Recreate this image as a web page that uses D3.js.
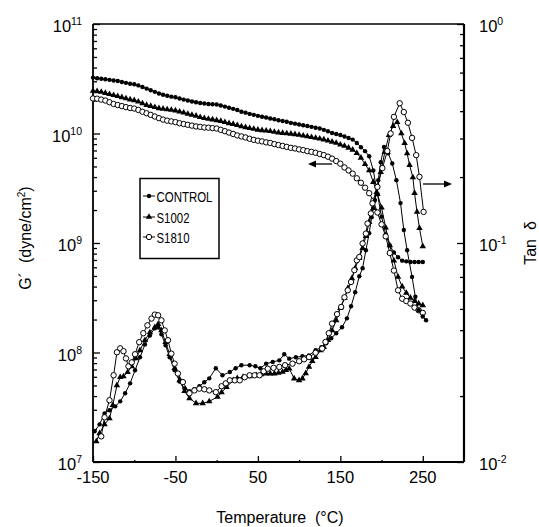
<!DOCTYPE html>
<html><head><meta charset="utf-8">
<script src="https://cdn.jsdelivr.net/npm/d3@7"></script>
<style>body{margin:0;background:#fff}</style>
</head><body><svg id="c" width="539" height="527" xmlns="http://www.w3.org/2000/svg"></svg>
<script>
// ---------- DATA ----------
const seriesNames = ["CONTROL", "S1002", "S1810"];
const xTicks = [-150, -50, 50, 150, 250];
const xMinor = [-100, 0, 100, 200];
const gMajor = [1e7, 1e8, 1e9, 1e10, 1e11];
const gExp = ["7", "8", "9", "10", "11"];
const tMajor = [1e-2, 1e-1, 1];
const tExp = ["-2", "-1", "0"];

// G' temperatures (°C)
const gTemps = [-150,-145,-140,-135,-130,-125,-120,-115,-110,-105,-100,-95,-90,-85,-80,-75,-70,-65,-60,-55,
  -50,-45,-40,-35,-30,-25,-20,-15,-10,-5,0,5,10,15,20,25,30,35,40,45,50,55,60,65,70,75,80,85,90,95,
  100,105,110,115,120,125,130,135,140,145,150,155,160,165,170,175,180,185,190,195,200,205,210,215,220,225,230,235,240,245,250];
const gControl = [3.24e10,3.2e10,3.16e10,3.13e10,3.09e10,3.05e10,3.02e10,2.95e10,2.9e10,2.85e10,
  2.82e10,2.75e10,2.66e10,2.57e10,2.48e10,2.4e10,2.32e10,2.26e10,2.21e10,2.17e10,
  2.14e10,2.09e10,2.04e10,2.0e10,1.96e10,1.93e10,1.9e10,1.88e10,1.86e10,1.85e10,
  1.84e10,1.8e10,1.76e10,1.72e10,1.68e10,1.64e10,1.58e10,1.55e10,1.51e10,1.48e10,
  1.45e10,1.42e10,1.4e10,1.37e10,1.35e10,1.32e10,1.3e10,1.28e10,1.25e10,1.23e10,
  1.21e10,1.19e10,1.17e10,1.15e10,1.13e10,1.11e10,1.08e10,1.05e10,1.01e10,9.9e9,
  9.7e9,9.4e9,9.1e9,8.8e9,8.2e9,7.5e9,6.9e9,6.2e9,4.6e9,2.8e9,
  1.74e9,1.2e9,9.5e8,8.2e8,7.4e8,6.9e8,6.8e8,6.7e8,6.7e8,6.7e8,6.7e8];
const gS1002 = [2.45e10,2.43e10,2.4e10,2.34e10,2.29e10,2.24e10,2.19e10,2.14e10,2.09e10,2.04e10,
  2.01e10,1.95e10,1.88e10,1.82e10,1.78e10,1.74e10,1.7e10,1.68e10,1.66e10,1.64e10,
  1.62e10,1.58e10,1.55e10,1.51e10,1.48e10,1.45e10,1.41e10,1.38e10,1.36e10,1.34e10,
  1.32e10,1.3e10,1.27e10,1.24e10,1.22e10,1.19e10,1.16e10,1.14e10,1.12e10,1.1e10,
  1.08e10,1.07e10,1.06e10,1.05e10,1.035e10,1.02e10,1.01e10,1.0e10,9.93e9,9.84e9,
  9.7e9,9.55e9,9.4e9,9.25e9,9.1e9,8.97e9,8.8e9,8.6e9,8.4e9,8.2e9,
  7.9e9,7.7e9,7.4e9,7.1e9,6.6e9,6.0e9,5.25e9,4.6e9,3.6e9,2.8e9,
  2.1e9,1.38e9,9.5e8,6.9e8,4.9e8,4.0e8,3.5e8,3.16e8,2.95e8,2.8e8,2.7e8];
const gS1810 = [2.09e10,2.08e10,2.04e10,2.0e10,1.93e10,1.86e10,1.82e10,1.78e10,1.74e10,1.71e10,
  1.69e10,1.64e10,1.58e10,1.53e10,1.48e10,1.43e10,1.38e10,1.34e10,1.31e10,1.29e10,
  1.27e10,1.24e10,1.22e10,1.2e10,1.18e10,1.16e10,1.15e10,1.135e10,1.13e10,1.12e10,
  1.11e10,1.08e10,1.05e10,1.02e10,9.9e9,9.6e9,9.4e9,9.2e9,8.95e9,8.75e9,
  8.6e9,8.47e9,8.3e9,8.2e9,8.0e9,7.85e9,7.7e9,7.55e9,7.4e9,7.3e9,
  7.16e9,7.05e9,6.9e9,6.8e9,6.67e9,6.5e9,6.35e9,6.14e9,5.9e9,5.6e9,
  5.3e9,4.9e9,4.6e9,4.3e9,3.9e9,3.55e9,3.2e9,2.85e9,2.43e9,1.9e9,
  1.48e9,1.15e9,8.1e8,5.6e8,3.7e8,3.1e8,2.95e8,2.8e8,2.57e8,2.43e8,2.3e8];

// tan delta
const tTempsControl = [-148,-142,-136,-130,-123,-117,-111,-105,-99,-93,-87,-81,-75,-71,-67,-62,-57,-51,-45,-39,-33,-27,-21,-15,-9,
  -1,7,16,23,30,40,47,53,60,68,76,82,88,96,104,112,120,127,133,139,145,152,158,163,168,173,177,181,185,188,192,196,199,203,
  208,213,218,223,227,231,237,241,245,250,254];
const tControl = [0.0138,0.01486,0.01667,0.01722,0.01795,0.01892,0.0206,0.02286,0.02624,0.03006,0.03443,0.03784,0.04083,0.04121,0.03828,0.03412,0.03006,0.02624,0.02333,0.02168,0.02104,0.02148,0.02218,0.02312,0.0241,
  0.0268,0.02489,0.02576,0.0268,0.02767,0.02767,0.02735,0.0268,0.02812,0.02864,0.02911,0.03105,0.02965,0.03006,0.03041,0.03069,0.03236,0.03342,0.03483,0.03673,0.03873,0.04121,0.04529,0.0514,0.05957,0.07047,0.07674,0.09268,0.1109,0.1312,0.157,0.1936,0.2339,0.2742,
  0.257,0.2307,0.1936,0.1521,0.1146,0.0927,0.07,0.0568,0.0493,0.0462,0.0444];

const tTempsS1002 = [-146,-142,-136,-130,-126,-121,-117,-113,-108,-103,-98,-93,-87,-81,-75,-71,-67,-62,-57,-51,-45,-39,-33,-25,-17,-9,
  1,6,12,20,25,32,40,48,54,60,65,70,75,80,84,88,94,100,104,108,112,116,120,126,130,135,140,145,150,155,159,164,168,173,177,181,185,190,194,199,204,209,214,219,
  224,228,231,234,238,240,243,246,250];
const tS1002 = [0.01242,0.01352,0.01486,0.01581,0.01816,0.02239,0.02438,0.0246,0.0257,0.02735,0.02972,0.03236,0.03597,0.03908,0.04121,0.04256,0.0399,0.03524,0.03105,0.0268,0.0236,0.02104,0.01954,0.01854,0.01854,0.01892,
  0.01982,0.0208,0.02198,0.0236,0.0241,0.02443,0.0246,0.02489,0.02512,0.02535,0.02535,0.02535,0.02553,0.02576,0.02624,0.02667,0.02404,0.0236,0.02404,0.02541,0.02716,0.02884,0.03013,0.03236,0.0335,0.03597,0.0399,0.04436,0.05035,0.05598,0.06209,0.06902,0.07674,0.08531,0.09462,0.1074,0.1245,0.1442,0.1706,0.2109,0.26,0.3112,0.342,0.3565,
  0.3162,0.2858,0.2564,0.227,0.1991,0.169,0.1387,0.1169,0.0966];

const tTempsS1810 = [-140,-136,-130,-125,-121,-117,-113,-110,-107,-103,-99,-94,-89,-84,-79,-75,-71,-67,-63,-59,-55,-51,-47,-41,-33,-27,-21,-15,-9,
  -1,6,11,16,22,28,34,40,46,52,57,62,69,76,83,92,100,106,112,120,128,132,136,140,146,151,155,159,163,167,170,173,177,181,183,187,189,195,201,207,211,215,222,
  227,232,237,242,246,251];
const tS1810 = [0.01309,0.016,0.01914,0.02489,0.0317,0.03304,0.03206,0.02972,0.02735,0.02851,0.03105,0.03524,0.03873,0.04207,0.04519,0.0471,0.04677,0.04436,0.0399,0.03597,0.03126,0.02812,0.02535,0.02317,0.0206,0.02123,0.02163,0.02148,0.02123,
  0.02084,0.02218,0.02286,0.0236,0.0236,0.0236,0.02438,0.02489,0.02489,0.02489,0.02594,0.02667,0.02692,0.02716,0.02767,0.02812,0.02884,0.02944,0.03013,0.03155,0.03296,0.03532,0.03873,0.04285,0.04732,0.05105,0.05649,0.06081,0.06637,0.07516,0.08337,0.0863,0.09954,0.1104,0.1227,0.1365,0.1517,0.1803,0.2198,0.263,0.3162,0.3767,0.4345,
  0.3963,0.354,0.302,0.2518,0.2004,0.1387];

// ---------- CHART ----------
const svg = d3.select("#c");
const font = "'Liberation Sans', Arial, Helvetica, sans-serif";
const L = 93, R = 464, T = 24, B = 462;
const x = d3.scaleLinear().domain([-150, 300]).range([L, R]);
const yG = d3.scaleLog().domain([1e7, 1e11]).range([B, T]);
const yT = d3.scaleLog().domain([1e-2, 1]).range([B, T]);

const zip = (ts, vs) => ts.map((t, i) => ({t: t, v: vs[i]}));

function styleAxis(g) {
  g.select(".domain").remove();
  g.selectAll("line").attr("stroke", "#000").attr("stroke-width", 1.3);
}
const gMinor = d3.merge(gMajor.slice(0, -1).map(d => [2,3,4,5,6,7,8,9].map(k => k * d)));
const tMinor = d3.merge(tMajor.slice(0, -1).map(d => [2,3,4,5,6,7,8,9].map(k => k * d)));

svg.append("g").attr("transform", `translate(${L},0)`)
  .call(d3.axisRight(yG).tickValues(gMajor).tickSize(7).tickSizeOuter(0).tickFormat("")).call(styleAxis);
svg.append("g").attr("transform", `translate(${L},0)`)
  .call(d3.axisRight(yG).tickValues(gMinor).tickSize(4).tickSizeOuter(0).tickFormat("")).call(styleAxis);
svg.append("g").attr("transform", `translate(${R},0)`)
  .call(d3.axisLeft(yT).tickValues(tMajor).tickSize(7).tickSizeOuter(0).tickFormat("")).call(styleAxis);
svg.append("g").attr("transform", `translate(${R},0)`)
  .call(d3.axisLeft(yT).tickValues(tMinor).tickSize(4).tickSizeOuter(0).tickFormat("")).call(styleAxis);
svg.append("g").attr("transform", `translate(0,${B})`)
  .call(d3.axisTop(x).tickValues(xTicks).tickSize(6).tickSizeOuter(0).tickFormat("")).call(styleAxis);
svg.append("g").attr("transform", `translate(0,${B})`)
  .call(d3.axisTop(x).tickValues(xMinor).tickSize(2).tickSizeOuter(0).tickFormat("")).call(styleAxis);

// frame
svg.append("line").attr("x1", L).attr("x2", R).attr("y1", T).attr("y2", T).attr("stroke", "#000").attr("stroke-width", 1.3);
svg.append("line").attr("x1", L).attr("x2", R).attr("y1", B).attr("y2", B).attr("stroke", "#000").attr("stroke-width", 2);
svg.append("line").attr("x1", L).attr("x2", L).attr("y1", T).attr("y2", B).attr("stroke", "#000").attr("stroke-width", 1.8);
svg.append("line").attr("x1", R).attr("x2", R).attr("y1", T).attr("y2", B).attr("stroke", "#000").attr("stroke-width", 2.2);

// tick labels
svg.append("g").selectAll("text").data(xTicks).join("text")
  .attr("x", d => x(d)).attr("y", B + 21).attr("text-anchor", "middle")
  .attr("font-family", font).attr("font-size", 16.5).text(d => d);

const gl = svg.append("g").selectAll("text").data(gMajor).join("text")
  .attr("x", 82).attr("y", d => yG(d) + 8).attr("text-anchor", "end")
  .attr("font-family", font).attr("font-size", 16.5);
gl.append("tspan").text("10");
gl.append("tspan").attr("dy", -7).attr("font-size", 10.5).text((d, i) => gExp[i]);

const tl = svg.append("g").selectAll("text").data(tMajor).join("text")
  .attr("x", 479).attr("y", d => yT(d) + 8).attr("text-anchor", "start")
  .attr("font-family", font).attr("font-size", 16.5);
tl.append("tspan").text("10");
tl.append("tspan").attr("dy", -7).attr("font-size", 10.5).text((d, i) => tExp[i]);

// axis titles
const gt = svg.append("text").attr("transform", "translate(31,238) rotate(-90)")
  .attr("text-anchor", "middle").attr("font-family", font).attr("font-size", 16)
  .attr("xml:space", "preserve");
gt.append("tspan").text("G\u00B4  (dyne/cm");
gt.append("tspan").attr("dy", -6).attr("font-size", 10).text("2");
gt.append("tspan").attr("dy", 6).text(")");

svg.append("text").attr("transform", "translate(536,243) rotate(-90)")
  .attr("text-anchor", "middle").attr("font-family", font).attr("font-size", 16)
  .attr("xml:space", "preserve").text("Tan  \u03B4");

svg.append("text").attr("x", 280).attr("y", 523).attr("text-anchor", "middle")
  .attr("font-family", font).attr("font-size", 16).attr("xml:space", "preserve")
  .text("Temperature  (\u00B0C)");

// series
const plot = svg.append("g");
const lineG = d3.line().x(d => x(d.t)).y(d => yG(d.v));
const lineT = d3.line().x(d => x(d.t)).y(d => yT(d.v));

function drawMarkers(g, data, xs, ys, kind) {
  if (kind === "dot") {
    g.selectAll(null).data(data).join("circle")
      .attr("cx", d => xs(d)).attr("cy", d => ys(d)).attr("r", 2.2).attr("fill", "#000");
  } else if (kind === "tri") {
    g.selectAll(null).data(data).join("path")
      .attr("transform", d => `translate(${xs(d)},${ys(d)})`)
      .attr("d", d3.symbol(d3.symbolTriangle, 18)).attr("fill", "#000");
  } else {
    g.selectAll(null).data(data).join("circle")
      .attr("cx", d => xs(d)).attr("cy", d => ys(d)).attr("r", 2.7)
      .attr("fill", "#fff").attr("stroke", "#000").attr("stroke-width", 1);
  }
}

const gSeries = [
  {data: zip(gTemps, gControl), kind: "dot"},
  {data: zip(gTemps, gS1002), kind: "tri"},
  {data: zip(gTemps, gS1810), kind: "open"}
];
const tSeries = [
  {data: zip(tTempsControl, tControl), kind: "dot"},
  {data: zip(tTempsS1002, tS1002), kind: "tri"},
  {data: zip(tTempsS1810, tS1810), kind: "open"}
];

gSeries.concat(tSeries).forEach((s, i) => {
  const isG = i < 3;
  plot.append("path").datum(s.data).attr("d", isG ? lineG : lineT)
    .attr("fill", "none").attr("stroke", "#000").attr("stroke-width", 1);
});
gSeries.forEach(s => drawMarkers(plot.append("g"), s.data, d => x(d.t), d => yG(d.v), s.kind));
tSeries.forEach(s => drawMarkers(plot.append("g"), s.data, d => x(d.t), d => yT(d.v), s.kind));

// arrows
svg.append("line").attr("x1", 332).attr("x2", 314).attr("y1", 164).attr("y2", 164).attr("stroke", "#000").attr("stroke-width", 1.3);
svg.append("path").attr("d", "M308,164 L316,160.5 L316,167.5 Z").attr("fill", "#000");
svg.append("line").attr("x1", 423).attr("x2", 445).attr("y1", 184).attr("y2", 184).attr("stroke", "#000").attr("stroke-width", 1.3);
svg.append("path").attr("d", "M452,184 L444,180.5 L444,187.5 Z").attr("fill", "#000");

// legend
const lg = svg.append("g");
lg.append("rect").attr("x", 140).attr("y", 178.5).attr("width", 79).attr("height", 80)
  .attr("fill", "#fff").attr("stroke", "#000").attr("stroke-width", 1.5);
const legY = [196, 217, 237];
const legW = [56, 33, 33];
const kinds = ["dot", "tri", "open"];
seriesNames.forEach((name, i) => {
  const y = legY[i];
  lg.append("line").attr("x1", 143).attr("x2", 155).attr("y1", y).attr("y2", y).attr("stroke", "#000").attr("stroke-width", 1);
  drawMarkers(lg.append("g"), [{t: 0}], () => 149, () => y, kinds[i]);
  lg.append("text").attr("x", 156.5).attr("y", y + 5.5)
    .attr("font-family", "'Liberation Sans Narrow', 'Arial Narrow', " + font).attr("font-size", 15.5)
    .attr("textLength", legW[i]).attr("lengthAdjust", "spacingAndGlyphs").text(name);
});
</script>
</body></html>
